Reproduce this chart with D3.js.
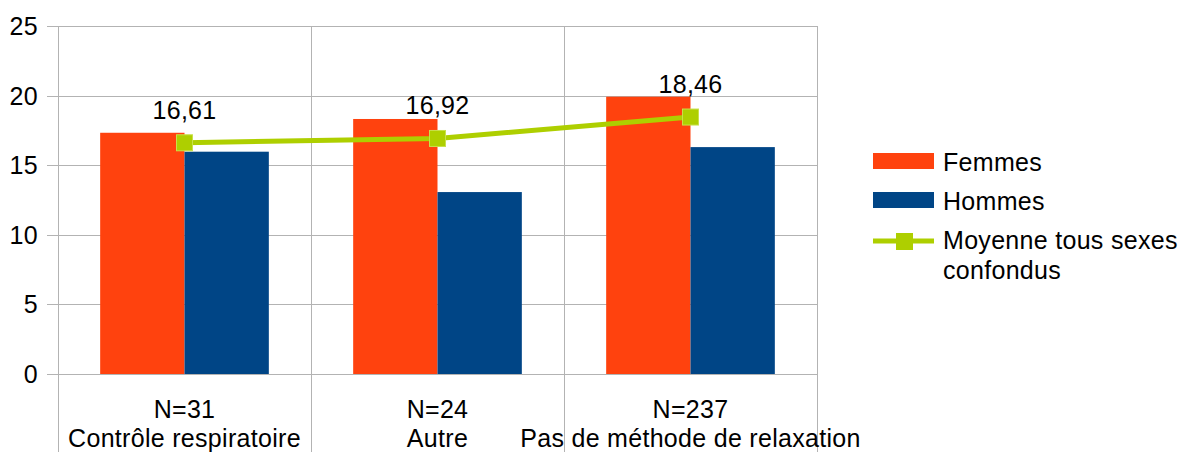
<!DOCTYPE html>
<html lang="fr">
<head>
    <meta charset="UTF-8">
    <title>Moyennes par méthode de relaxation</title>
    <script type="application/javascript" src="https://cdnjs.cloudflare.com/ajax/libs/d3/7.8.5/d3.min.js"></script>
    <style type="text/css">
        body { margin: 0; background: #fff; }
        text { font-family: "Liberation Sans", Arial, sans-serif; fill: #000; font-size: 25px; letter-spacing: 0.3px; }
        .grid line { stroke: #b3b3b3; stroke-width: 1; }
    </style>
</head>
<body>
<svg id="chart" width="1185" height="452"></svg>
<script type="application/javascript">
    var CATEGORIES = ['Contrôle respiratoire', 'Autre', 'Pas de méthode de relaxation'];
    var COUNTS = ['N=31', 'N=24', 'N=237'];
    var SERIES = ['Femmes', 'Hommes'];
    var FEMMES = [17.33, 18.32, 19.92];
    var HOMMES = [15.97, 13.07, 16.3];
    var MOYENNE = [16.61, 16.92, 18.46];
    var Y_TICKS = [0, 5, 10, 15, 20, 25];

    var COLORS = {Femmes: '#ff420e', Hommes: '#004586'};
    var LINE_COLOR = '#aecf00';

    (function () {
        var svg = d3.select('#chart');
        var plotLeft = 58, plotRight = 817, plotTop = 26, plotBottom = 374, svgHeight = 452;

        var x0 = d3.scaleBand().domain(CATEGORIES).range([plotLeft, plotRight]).padding(0);
        var x1 = d3.scaleBand().domain(SERIES).range([0, x0.bandwidth()])
                .paddingInner(0).paddingOuter(0.5);
        var y = d3.scaleLinear().domain([0, 25]).range([plotBottom, plotTop]);

        // gridlines, with the little tick stubs on the left
        var grid = svg.append('g').attr('class', 'grid');
        grid.selectAll('.h').data(Y_TICKS).enter().append('line')
                .attr('class', 'h')
                .attr('x1', plotLeft - 11).attr('x2', plotRight)
                .attr('y1', function (d) { return Math.round(y(d)) + 0.5; })
                .attr('y2', function (d) { return Math.round(y(d)) + 0.5; });

        // y axis line + category separators going down under the axis
        var seps = [plotLeft].concat(CATEGORIES.map(function (c) { return x0(c) + x0.bandwidth(); }));
        grid.selectAll('.sep').data(seps).enter().append('line')
                .attr('class', 'sep')
                .attr('x1', function (d) { return Math.round(d) + 0.5; })
                .attr('x2', function (d) { return Math.round(d) + 0.5; })
                .attr('y1', plotTop).attr('y2', svgHeight);

        // y tick labels
        svg.append('g').selectAll('text').data(Y_TICKS).enter().append('text')
                .attr('x', 38).attr('y', function (d) { return y(d) + 9; })
                .attr('text-anchor', 'end')
                .text(function (d) { return d; });

        // bars
        var rows = CATEGORIES.map(function (c, i) {
            return {cat: c, Femmes: FEMMES[i], Hommes: HOMMES[i]};
        });
        var groups = svg.append('g').selectAll('g').data(rows).enter().append('g')
                .attr('transform', function (d) { return 'translate(' + x0(d.cat) + ',0)'; });
        groups.selectAll('rect')
                .data(function (d) { return SERIES.map(function (s) { return {key: s, value: d[s]}; }); })
                .enter().append('rect')
                .attr('x', function (d) { return x1(d.key); })
                .attr('width', x1.bandwidth())
                .attr('y', function (d) { return y(d.value); })
                .attr('height', function (d) { return y(0) - y(d.value); })
                .attr('fill', function (d) { return COLORS[d.key]; });

        // category labels
        var mid = function (c) { return x0(c) + x0.bandwidth() / 2; };
        var xLabels = svg.append('g').selectAll('g').data(CATEGORIES).enter().append('g');
        xLabels.append('text')
                .attr('x', mid).attr('y', 418)
                .attr('text-anchor', 'middle')
                .text(function (d, i) { return COUNTS[i]; });
        xLabels.append('text')
                .attr('x', mid).attr('y', 447)
                .attr('text-anchor', 'middle')
                .text(function (d) { return d; });

        // average line
        var cx = function (d, i) { return mid(CATEGORIES[i]); };
        var line = d3.line().x(cx).y(function (d) { return y(d); });
        svg.append('path').datum(MOYENNE)
                .attr('fill', 'none')
                .attr('stroke', LINE_COLOR)
                .attr('stroke-width', 5)
                .attr('d', line);
        svg.append('g').selectAll('rect').data(MOYENNE).enter().append('rect')
                .attr('x', function (d, i) { return cx(d, i) - 8; })
                .attr('y', function (d) { return y(d) - 8; })
                .attr('width', 16).attr('height', 16)
                .attr('fill', LINE_COLOR)
                .attr('stroke', '#c8e04a').attr('stroke-width', 1);
        svg.append('g').selectAll('text').data(MOYENNE).enter().append('text')
                .attr('x', cx)
                .attr('y', function (d) { return y(d) - 24; })
                .attr('text-anchor', 'middle')
                .text(function (d) { return d3.format('.2f')(d).replace('.', ','); });

        // legend
        var legend = svg.append('g');
        SERIES.forEach(function (s, i) {
            var ly = 153 + i * 39;
            legend.append('rect')
                    .attr('x', 873).attr('y', ly).attr('width', 61).attr('height', 16)
                    .attr('fill', COLORS[s]);
            legend.append('text')
                    .attr('x', 943).attr('y', ly + 18)
                    .text(s);
        });
        legend.append('line')
                .attr('x1', 873).attr('x2', 934).attr('y1', 241).attr('y2', 241)
                .attr('stroke', LINE_COLOR).attr('stroke-width', 5);
        legend.append('rect')
                .attr('x', 896).attr('y', 233).attr('width', 17).attr('height', 17)
                .attr('fill', LINE_COLOR);
        var legText = legend.append('text').attr('x', 943).attr('y', 249);
        legText.append('tspan').attr('x', 943).text('Moyenne tous sexes');
        legText.append('tspan').attr('x', 943).attr('dy', 30).text('confondus');
    })();
</script>
</body>
</html>
